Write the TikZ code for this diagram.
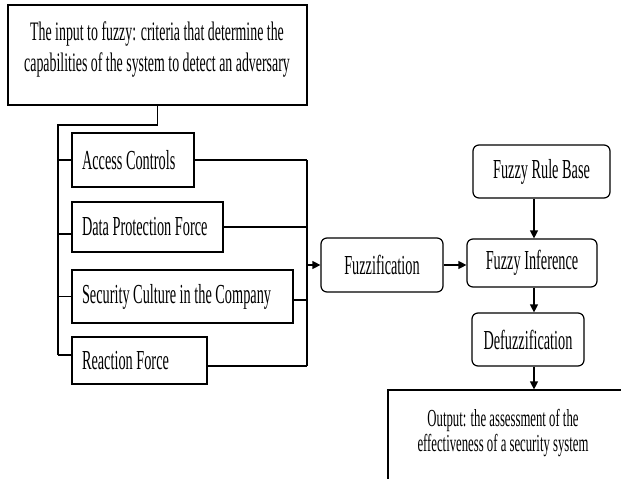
\documentclass[tikz,border=0pt]{standalone}
\usepackage{fontspec}
\setmainfont{Liberation Serif}[FakeStretch=0.52]
\usetikzlibrary{arrows.meta}
\tikzset{
  sbox/.style={draw, line width=1.2pt, rectangle, inner ysep=0pt, inner xsep=0pt, font=\fontsize{27.5}{30}\selectfont},
  rbox/.style={sbox, rounded corners=6pt},
  conn/.style={line width=1.2pt},
  arr/.style={line width=1.2pt, -{Triangle[length=8pt,width=8pt]}},
}
\newcommand{\lefttext}[2]{\makebox[#1][l]{\hspace{10pt}#2}}
\begin{document}
\begin{tikzpicture}[x=1pt,y=-1pt]
\useasboundingbox (0,0) rectangle (621,479);
\clip (0,0) rectangle (621,479);
% top box
\node[sbox, minimum width=299pt, minimum height=100pt] (top) at (157.5,55) {};
\node[anchor=center, inner sep=0pt, align=center, font=\fontsize{26.7}{31}\selectfont] (toptext) at (157,49.5)
  {The input to fuzzy: criteria that determine the\\capabilities of the system to detect an adversary};
% criteria boxes
\node[sbox, minimum width=122pt, minimum height=54pt] (ac) at (133,160) {\lefttext{122pt}{Access Controls}};
\node[sbox, minimum width=151pt, minimum height=50pt] (dp) at (147.5,227) {\lefttext{151pt}{Data Protection Force}};
\node[sbox, minimum width=221pt, minimum height=53pt] (sc) at (182.5,296.5) {\lefttext{221pt}{Security Culture in the Company}};
\node[sbox, minimum width=135pt, minimum height=47pt] (rf) at (139.5,360.5) {\lefttext{135pt}{Reaction Force}};
% process boxes
\node[rbox, minimum width=122pt, minimum height=54pt] (fz) at (382,265) {Fuzzification};
\node[rbox, minimum width=130pt, minimum height=48pt] (fi) at (532,263) {Fuzzy Inference};
\node[rbox, minimum width=137pt, minimum height=53pt] (frb) at (541.5,171.5) {Fuzzy Rule Base};
\node[rbox, minimum width=112pt, minimum height=53pt] (df) at (528,339.5) {Defuzzification};
% output box
\node[sbox, minimum width=237pt, minimum height=110pt] (out) at (506.5,445) {};
\node[anchor=center, inner sep=0pt, align=center, font=\fontsize{24.5}{24.5}\selectfont] (outtext) at (503,433)
  {Output: the assessment of the\\effectiveness of a security system};
% left trunk
\coordinate (tl) at (58,125);
\coordinate (rt) at (307,162);
\coordinate (col) at (534,0);
\draw[conn] (top.south) |- (tl) -- ([yshift=5.5pt]rf.west -| tl);
\draw[conn] (ac.west -| tl) -- (ac.west);
\draw[conn] ([yshift=-7pt]dp.west -| tl) -- ([yshift=-7pt]dp.west);
\draw[conn] (sc.west -| tl) -- (sc.west);
\draw[conn] ([yshift=5.5pt]rf.west -| tl) -- ([yshift=5.5pt]rf.west);
% right trunk
\draw[conn] (ac.east) -- (ac.east -| rt);
\draw[conn] (dp.east) -- (dp.east -| rt);
\draw[conn] ([yshift=-3.5pt]sc.east) -- ([yshift=-3.5pt]sc.east -| rt);
\draw[conn] ([yshift=-5.5pt]rf.east) -- ([yshift=-5.5pt]rf.east -| rt);
\draw[conn] (ac.east -| rt) -- ([yshift=-5.5pt]rf.east -| rt);
% arrows
\draw[arr] (fz.west -| rt) -- (fz.west);
\draw[arr] (fz.east) -- (fz.east -| fi.west);
\draw[arr] (frb.south -| col) -- (fi.north -| col);
\draw[arr] (fi.south -| col) -- (df.north -| col);
\draw[arr] (df.south -| col) -- (out.north -| col);
\end{tikzpicture}
\end{document}
